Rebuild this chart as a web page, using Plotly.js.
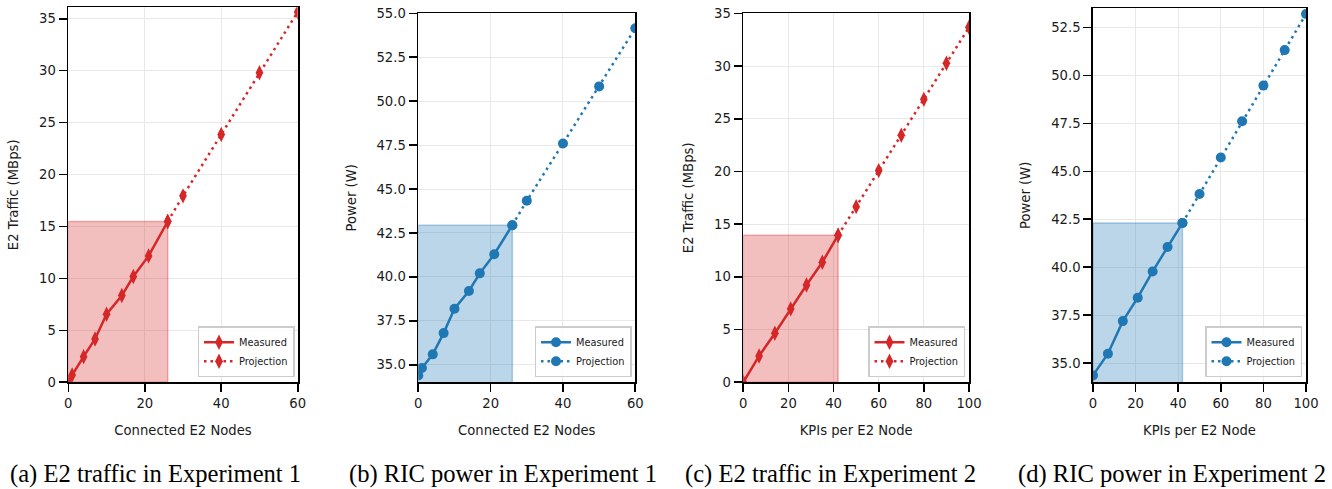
<!DOCTYPE html>
<html><head><meta charset="utf-8">
<script src="https://cdn.plot.ly/plotly-3.0.1.min.js"></script>
<style>html,body{margin:0;padding:0;background:#fff}#chart{width:1332px;height:489px}</style>
</head><body><div id="chart"></div><script>
// ---- data ----
const exp1Nodes      = [0, 1, 4, 7, 10, 14, 17, 21, 26];
const exp1NodesProj  = [26, 30, 40, 50, 60];
const exp1TrafficMeas = [0.0, 0.70, 2.47, 4.17, 6.55, 8.35, 10.18, 12.17, 15.48];
const exp1TrafficProj = [15.48, 17.95, 23.86, 29.80, 35.65];
const exp1PowerMeas   = [34.39, 34.81, 35.59, 36.80, 38.19, 39.20, 40.20, 41.29, 42.94];
const exp1PowerProj   = [42.94, 44.33, 47.59, 50.84, 54.15];

const exp2Kpis       = [0, 7, 14, 21, 28, 35, 42];
const exp2KpisProj   = [42, 50, 60, 70, 80, 90, 100];
const exp2TrafficMeas = [0.0, 2.50, 4.65, 6.96, 9.23, 11.38, 13.95];
const exp2TrafficProj = [13.95, 16.66, 20.08, 23.43, 26.84, 30.26, 33.67];
const exp2PowerMeas   = [34.36, 35.49, 37.19, 38.41, 39.78, 41.05, 42.31];
const exp2PowerProj   = [42.31, 43.82, 45.72, 47.61, 49.47, 51.32, 53.20];

const seriesNames = ['Measured', 'Projection'];
const xTitles = ['Connected E2 Nodes', 'Connected E2 Nodes', 'KPIs per E2 Node', 'KPIs per E2 Node'];
const yTitles = ['E2 Traffic (MBps)', 'Power (W)', 'E2 Traffic (MBps)', 'Power (W)'];
const captions = ['(a) E2 traffic in Experiment 1', '(b) RIC power in Experiment 1',
                  '(c) E2 traffic in Experiment 2', '(d) RIC power in Experiment 2'];

// ---- styling / layout ----
const W = 1332, H = 489;
const RED = '#d62728', BLUE = '#1f77b4';
const panels = [
  {mx: exp1Nodes, my: exp1TrafficMeas, px: exp1NodesProj, py: exp1TrafficProj, color: RED, fill: 'rgba(214,39,40,0.30)', edge: 'rgba(214,39,40,0.35)', sym: 'diamond-tall', msize: 11,
   box: [68.3, 297.7, 7.3, 382.3], xr: [0, 60], yr: [0, 36.1], ydt: 5, yt0: 0, yfmt: 'd', leg: [294.5, 377.3], cap: 155},
  {mx: exp1Nodes, my: exp1PowerMeas, px: exp1NodesProj, py: exp1PowerProj, color: BLUE, fill: 'rgba(31,119,180,0.30)', edge: 'rgba(31,119,180,0.35)', sym: 'circle', msize: 10,
   box: [418.3, 635.3, 13.3, 382.3], xr: [0, 60], yr: [34, 55], ydt: 2.5, yt0: 35, yfmt: '.1f', leg: [631.5, 377.3], cap: 503},
  {mx: exp2Kpis, my: exp2TrafficMeas, px: exp2KpisProj, py: exp2TrafficProj, color: RED, fill: 'rgba(214,39,40,0.30)', edge: 'rgba(214,39,40,0.35)', sym: 'diamond-tall', msize: 11,
   box: [743.3, 969, 13.3, 382.3], xr: [0, 100], yr: [0, 35], ydt: 5, yt0: 0, yfmt: 'd', leg: [965, 377.3], cap: 831},
  {mx: exp2Kpis, my: exp2PowerMeas, px: exp2KpisProj, py: exp2PowerProj, color: BLUE, fill: 'rgba(31,119,180,0.30)', edge: 'rgba(31,119,180,0.35)', sym: 'circle', msize: 10,
   box: [1093, 1306, 8.3, 382.3], xr: [0, 100], yr: [34, 53.5], ydt: 2.5, yt0: 35, yfmt: '.1f', leg: [1302, 377.3], cap: 1172}
];

const FONT = 'DejaVu Sans, Verdana, sans-serif';
const TXT = '#1a1a1a';
const FS = 13.2;
const traces = [];
const layout = {
  width: W, height: H, margin: {l: 0, r: 0, t: 0, b: 0},
  paper_bgcolor: '#ffffff', plot_bgcolor: '#ffffff',
  font: {family: FONT, size: FS, color: TXT},
  showlegend: true, annotations: []
};

panels.forEach((p, i) => {
  const n = i === 0 ? '' : String(i + 1);
  const xa = 'x' + n, ya = 'y' + n;
  const lg = 'legend' + n;
  const lastX = p.mx[p.mx.length - 1], lastY = p.my[p.my.length - 1];
  // shaded measured region
  traces.push({
    type: 'scatter', mode: 'lines', xaxis: xa, yaxis: ya, showlegend: false, hoverinfo: 'skip',
    x: [p.mx[0], lastX, lastX, p.mx[0], p.mx[0]], y: [0, 0, lastY, lastY, 0],
    fill: 'toself', fillcolor: p.fill, line: {color: p.edge, width: 1.5}
  });
  traces.push({
    type: 'scatter', mode: 'lines+markers', name: seriesNames[1], legend: lg, xaxis: xa, yaxis: ya,
    x: p.px, y: p.py, line: {color: p.color, width: 2.5, dash: '2.5px,4px'},
    marker: {symbol: p.sym, size: p.msize, color: p.color}
  });
  traces.push({
    type: 'scatter', mode: 'lines+markers', name: seriesNames[0], legend: lg, xaxis: xa, yaxis: ya,
    x: p.mx, y: p.my, line: {color: p.color, width: 2.5},
    marker: {symbol: p.sym, size: p.msize, color: p.color}
  });
  const axCommon = {
    showline: true, mirror: true, linecolor: '#000', linewidth: 1.8,
    ticks: 'outside', ticklen: 8, tickwidth: 1.6, tickcolor: '#000',
    showgrid: true, gridcolor: '#e8e8e8', gridwidth: 1, zeroline: false,
    tickfont: {family: FONT, size: FS, color: TXT}, fixedrange: true
  };
  layout['xaxis' + n] = Object.assign({}, axCommon, {
    domain: [p.box[0] / W, p.box[1] / W], anchor: ya, range: p.xr, dtick: 20, tick0: 0,
    title: {text: xTitles[i], font: {family: FONT, size: FS, color: TXT}, standoff: 16}
  });
  layout['yaxis' + n] = Object.assign({}, axCommon, {
    domain: [1 - p.box[3] / H, 1 - p.box[2] / H], anchor: xa, range: p.yr, dtick: p.ydt, tick0: p.yt0,
    tickformat: p.yfmt,
    title: {text: yTitles[i], font: {family: FONT, size: FS, color: TXT}, standoff: 17}
  });
  layout[lg] = {
    x: p.leg[0] / W, y: 1 - p.leg[1] / H, xanchor: 'right', yanchor: 'bottom',
    xref: 'paper', yref: 'paper',
    bgcolor: 'rgba(255,255,255,0.8)', bordercolor: '#cccccc', borderwidth: 1.5,
    font: {family: FONT, size: 9.8, color: TXT}, traceorder: 'reversed', tracegroupgap: 0, itemwidth: 30
  };
  layout.annotations.push({
    text: captions[i], xref: 'paper', yref: 'paper', x: p.cap / W, y: 1 - 474 / H,
    xanchor: 'center', yanchor: 'middle', showarrow: false,
    font: {family: 'Liberation Serif, Times New Roman, serif', size: 24.6, color: '#000'}
  });
});

Plotly.newPlot('chart', traces, layout, {staticPlot: true, displayModeBar: false});
</script></body></html>
